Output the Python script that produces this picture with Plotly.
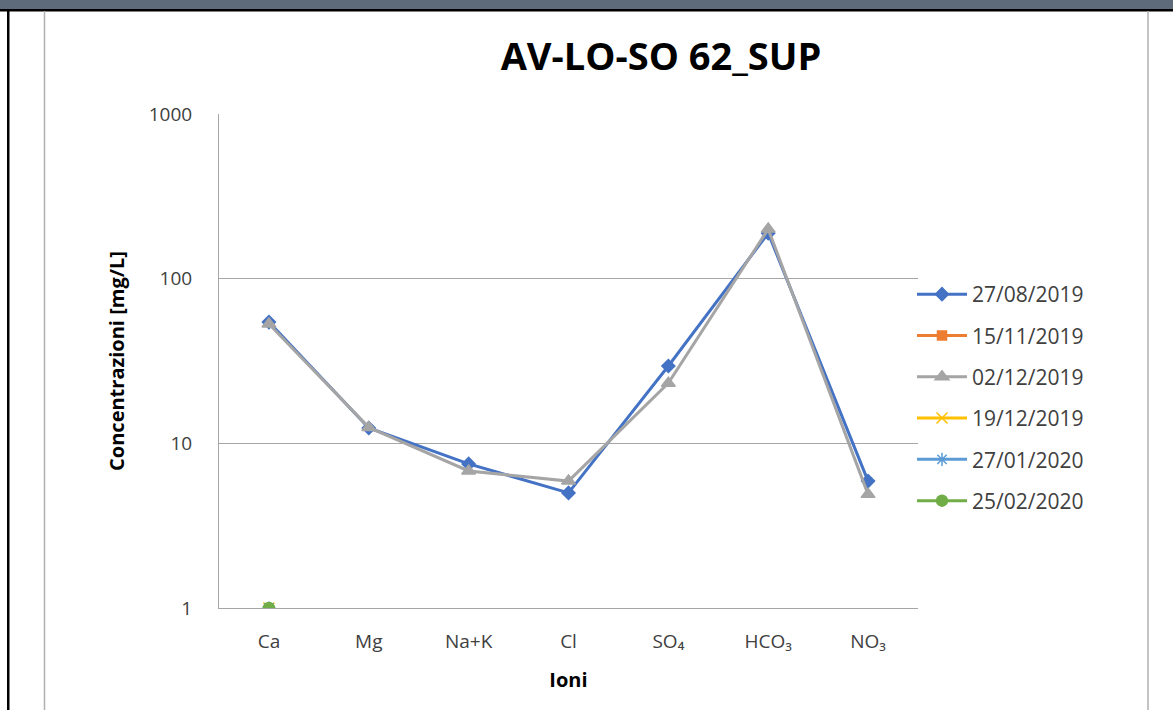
import plotly.graph_objects as go

ioni = ["Ca", "Mg", "Na+K", "Cl", "SO₄", "HCO₃", "NO₃"]

date = ["27/08/2019", "15/11/2019", "02/12/2019", "19/12/2019", "27/01/2020", "25/02/2020"]

c_27_08_2019 = [54.5, 12.4, 7.5, 5.0, 29.5, 189, 5.9]
c_15_11_2019 = [None, None, None, None, None, None, None]
c_02_12_2019 = [53, 12.5, 6.8, 5.9, 23.2, 200, 4.9]
c_19_12_2019 = [1, None, None, None, None, None, None]
c_27_01_2020 = [1, None, None, None, None, None, None]
c_25_02_2020 = [1, None, None, None, None, None, None]

serie = [c_27_08_2019, c_15_11_2019, c_02_12_2019, c_19_12_2019, c_27_01_2020, c_25_02_2020]
colori = ["#4472C4", "#ED7D31", "#A5A5A5", "#FFC000", "#5B9BD5", "#70AD47"]
simboli = ["diamond", "square", "triangle-up", "x-thin", "asterisk", "circle"]
dimensioni = [10, 9, 12, 11, 11, 11]

fig = go.Figure()
for i in range(len(date)):
    fig.add_trace(go.Scatter(
        x=ioni, y=serie[i], name=date[i], mode="lines+markers",
        line=dict(color=colori[i], width=3),
        marker=dict(symbol=simboli[i], size=dimensioni[i], color=colori[i],
                    line=dict(color=colori[i], width=1.5)),
        legendgroup=date[i],
    ))

# margins chosen so the plot area sits where it is in the picture
L, R, T, B = 219, 255, 114, 102
W, H = 1173, 710
pw, ph = W - L - R, H - T - B
def px(x): return (x - L) / pw
def py(y): return (H - B - y) / ph

shapes = [
    # header bar and frame
    dict(type="rect", xref="paper", yref="paper", x0=px(0), x1=px(W), y0=py(0), y1=py(9),
         fillcolor="#5d6b7b", line=dict(width=0), layer="below"),
    dict(type="rect", xref="paper", yref="paper", x0=px(0), x1=px(W), y0=py(9), y1=py(11.5),
         fillcolor="black", line=dict(width=0), layer="below"),
    dict(type="rect", xref="paper", yref="paper", x0=px(7), x1=px(9.5), y0=py(9), y1=py(H),
         fillcolor="black", line=dict(width=0), layer="below"),
    dict(type="line", xref="paper", yref="paper", x0=px(44.5), x1=px(44.5), y0=py(11), y1=py(H),
         line=dict(color="#b0b0b0", width=1.5), layer="below"),
    dict(type="line", xref="paper", yref="paper", x0=px(1148), x1=px(1148), y0=py(11), y1=py(H),
         line=dict(color="#b0b0b0", width=1.5), layer="below"),
]

fig.update_layout(
    width=W, height=H,
    margin=dict(l=L, r=R, t=T, b=B),
    paper_bgcolor="white", plot_bgcolor="white",
    font=dict(family="Open Sans, Lato, sans-serif", color="#404040"),
    title=dict(text="<b>AV-LO-SO 62_SUP</b>", x=661 / W, xanchor="center",
               y=1 - 57 / H, yanchor="middle",
               font=dict(size=38, color="black", family="Open Sans, sans-serif")),
    xaxis=dict(
        type="category", range=[-0.5, 6.5],
        showgrid=False, showline=True, linecolor="#a6a6a6", linewidth=1,
        ticks="", tickfont=dict(size=19, color="#404040"), ticklabelstandoff=16,
        title=dict(text="<b>Ioni</b>", font=dict(size=20, color="black"), standoff=20),
    ),
    yaxis=dict(
        type="log", range=[0, 3],
        tickvals=[1, 10, 100, 1000], ticktext=["1", "10", "100", "1000"],
        showgrid=True, gridcolor="#a6a6a6", gridwidth=1,
        showline=True, linecolor="#a6a6a6", linewidth=1, zeroline=False,
        ticks="", tickfont=dict(size=19, color="#404040"), ticklabelstandoff=22,
        title=dict(text="<b>Concentrazioni [mg/L]</b>", font=dict(size=20, color="black"), standoff=18),
    ),
    legend=dict(
        x=px(912), xanchor="left", y=py(274), yanchor="top",
        font=dict(size=21, color="#404040"), itemwidth=50,
        tracegroupgap=11, traceorder="grouped", bgcolor="rgba(0,0,0,0)",
    ),
    shapes=shapes,
)

fig.write_html("out.html", config={"displayModeBar": False},
               post_script="document.body.style.margin='0px';")
